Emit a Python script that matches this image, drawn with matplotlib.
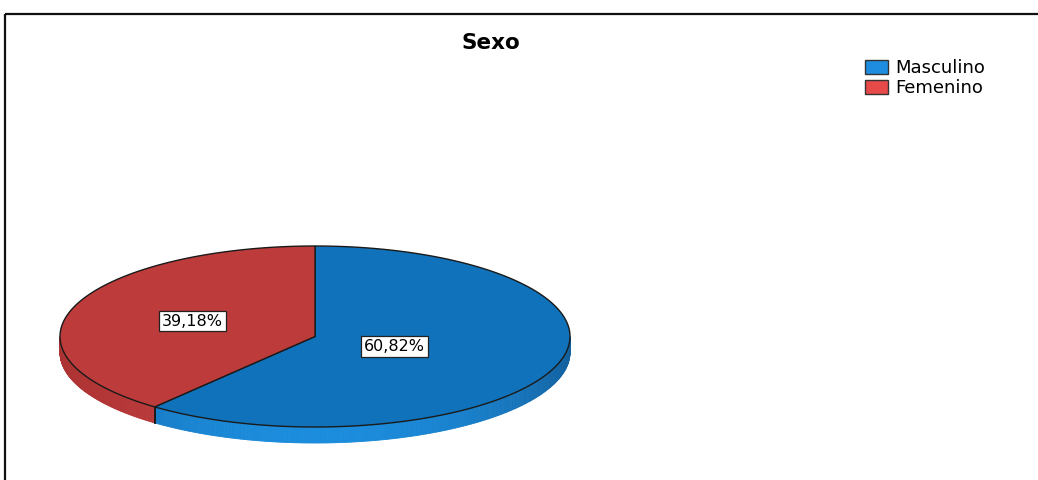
import numpy as np
import matplotlib
matplotlib.use("Agg")
import matplotlib.pyplot as plt
import matplotlib.patches as patches
from matplotlib.collections import PolyCollection
from matplotlib.colors import to_rgb

title = "Sexo"
labels = ["Masculino", "Femenino"]
values = [60.82, 39.18]
label_texts = ["60,82%", "39,18%"]

top_colors = ["#1072ba", "#bd3b3b"]
side_front = ["#1b8cdc", "#bf3c3c"]
side_edge = ["#135f9c", "#ab3232"]
legend_colors = ["#1e8ddf", "#e84a4a"]
label_frac = [0.33, 0.51]

# pie geometry in pixel coords
cx, cy = 315, 336.5
a, b = 255, 90.5
depth = 16

fig = plt.figure(figsize=(10.38, 4.8), dpi=100)
ax = fig.add_axes([0, 0, 1, 1])
ax.set_xlim(0, 1038)
ax.set_ylim(480, 0)
ax.axis("off")

# outer frame
ax.add_patch(patches.Rectangle((5, 14), 1060, 490, fill=False, ec="#111111", lw=1.6))


def ell(t, dy=0):
    return cx + a * np.cos(t), cy - b * np.sin(t) + dy


# slices go clockwise starting at top
total = sum(values)
start = 90.0
spans = []
for v in values:
    sweep = v / total * 360
    spans.append((start - sweep, start))
    start -= sweep

# side walls (front half only)
for (t0, t1), cf, ce in zip(spans, side_front, side_edge):
    ts = np.radians(np.linspace(t0, t1, 400))
    polys, cols = [], []
    for i in range(len(ts) - 1):
        ta, tb = ts[i], ts[i + 1]
        tm = (ta + tb) / 2
        if np.sin(tm) >= 0:
            continue
        xa, ya = ell(ta)
        xb, yb = ell(tb)
        polys.append([(xa, ya), (xb, yb), (xb, yb + depth), (xa, ya + depth)])
        k = (-np.sin(tm)) ** 1.5
        c = np.array(to_rgb(ce)) * (1 - k) + np.array(to_rgb(cf)) * k
        cols.append(c)
    if polys:
        ax.add_collection(PolyCollection(polys, facecolors=cols, edgecolors=cols, lw=0.6))

# dividing edge on the side wall
for t0, t1 in spans:
    for t in (t0, t1):
        tr = np.radians(t)
        if np.sin(tr) < 0:
            x, y = ell(tr)
            ax.plot([x, x], [y, y + depth], color="#1a1a1a", lw=1.2)

# top faces
for (t0, t1), col in zip(spans, top_colors):
    ts = np.radians(np.linspace(t0, t1, 300))
    xs, ys = ell(ts)
    pts = np.column_stack([np.r_[cx, xs], np.r_[cy, ys]])
    ax.add_patch(patches.Polygon(pts, closed=True, fc=col, ec="#1a1a1a", lw=1.0))

# labels
for (t0, t1), txt, f in zip(spans, label_texts, label_frac):
    tm = np.radians((t0 + t1) / 2)
    x = cx + f * a * np.cos(tm)
    y = cy - f * b * np.sin(tm)
    ax.text(x, y, txt, ha="center", va="center", fontsize=11.5, family="DejaVu Sans",
            color="black",
            bbox=dict(boxstyle="square,pad=0.18", fc="white", ec="#222222", lw=0.9))

ax.text(491, 43, title, ha="center", va="center", fontsize=15.5, fontweight="bold",
        family="DejaVu Sans")

handles = [patches.Patch(fc=c, ec="#333333", lw=1.0) for c in legend_colors]
ax.legend(handles, labels, loc="upper left", bbox_to_anchor=(865, 59),
          bbox_transform=ax.transData, frameon=False, fontsize=13,
          borderpad=0, borderaxespad=0, handlelength=1.25, handleheight=0.85,
          handletextpad=0.4, labelspacing=0.12)

fig.savefig("out.png", dpi=100, facecolor="white")
